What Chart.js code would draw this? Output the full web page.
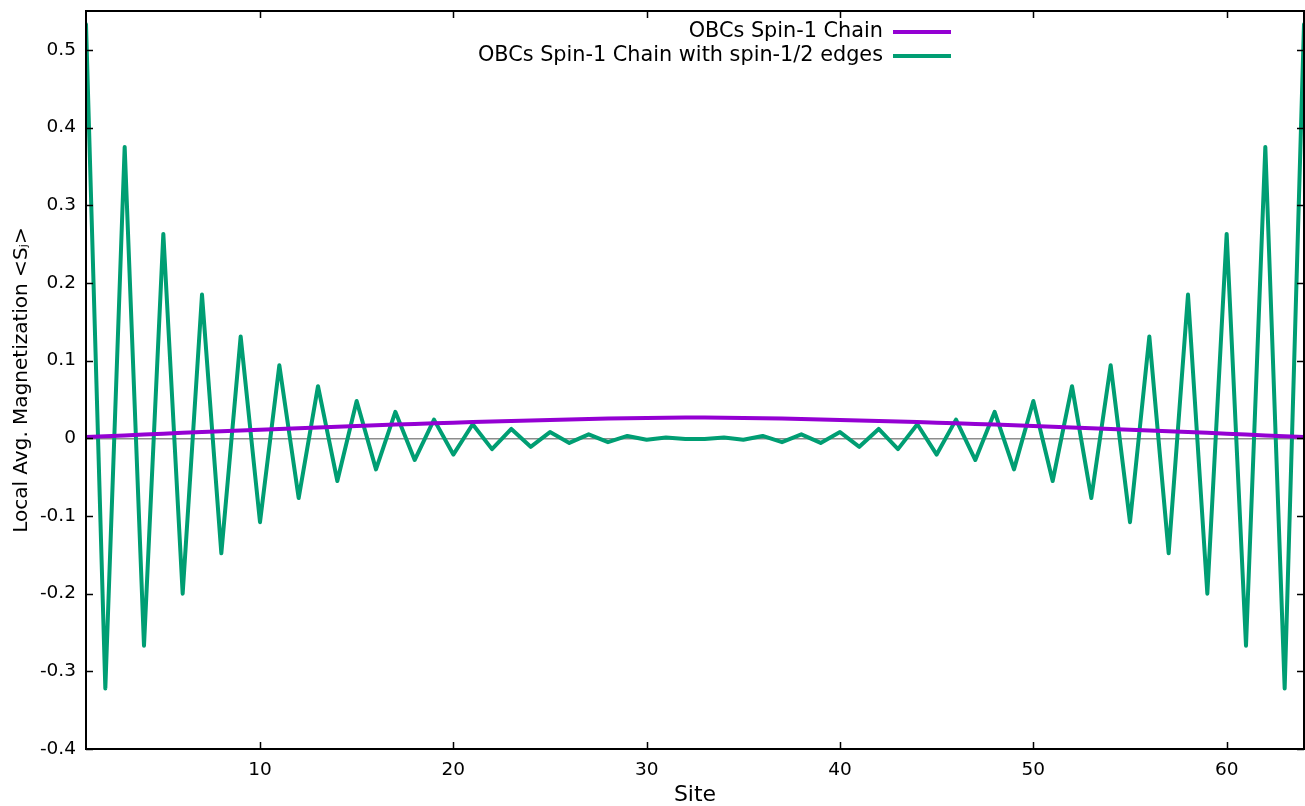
<!DOCTYPE html>
<html>
<head>
<meta charset="utf-8">
<script src="https://cdn.jsdelivr.net/npm/chart.js@4"></script>
<style>
    html, body { margin: 0; padding: 0; background: #fff; }
    #wrap { width: 1305px; height: 806px; }
</style>
</head>
<body>
<div id="wrap"><canvas id="grafico"></canvas></div>
<script>
// sitios de la cadena
const sitios = [1, 2, 3, 4, 5, 6, 7, 8, 9, 10, 11, 12, 13, 14, 15, 16,
    17, 18, 19, 20, 21, 22, 23, 24, 25, 26, 27, 28, 29, 30, 31, 32,
    33, 34, 35, 36, 37, 38, 39, 40, 41, 42, 43, 44, 45, 46, 47, 48,
    49, 50, 51, 52, 53, 54, 55, 56, 57, 58, 59, 60, 61, 62, 63, 64];

// cadena spin-1 con OBC
const magSpin1 = [0.0015, 0.0026, 0.0037, 0.0048, 0.0059, 0.0070, 0.0080, 0.0090,
    0.0100, 0.0110, 0.0120, 0.0130, 0.0140, 0.0149, 0.0158, 0.0167,
    0.0176, 0.0185, 0.0193, 0.0201, 0.0209, 0.0216, 0.0223, 0.0230,
    0.0236, 0.0242, 0.0248, 0.0253, 0.0258, 0.0262, 0.0265, 0.0267,
    0.0267, 0.0265, 0.0262, 0.0258, 0.0253, 0.0248, 0.0242, 0.0236,
    0.0230, 0.0223, 0.0216, 0.0209, 0.0201, 0.0193, 0.0185, 0.0176,
    0.0167, 0.0158, 0.0149, 0.0140, 0.0130, 0.0120, 0.0110, 0.0100,
    0.0090, 0.0080, 0.0070, 0.0059, 0.0048, 0.0037, 0.0026, 0.0015];

// cadena spin-1 con bordes spin-1/2
const magBordes = [0.533, -0.322, 0.375, -0.267, 0.263, -0.200, 0.185, -0.148,
    0.131, -0.108, 0.094, -0.077, 0.067, -0.055, 0.048, -0.040,
    0.034, -0.028, 0.024, -0.021, 0.018, -0.014, 0.012, -0.011,
    0.008, -0.006, 0.005, -0.005, 0.003, -0.002, 0.001, -0.001,
    -0.001, 0.001, -0.002, 0.003, -0.005, 0.005, -0.006, 0.008,
    -0.011, 0.012, -0.014, 0.018, -0.021, 0.024, -0.028, 0.034,
    -0.040, 0.048, -0.055, 0.067, -0.077, 0.094, -0.108, 0.131,
    -0.148, 0.185, -0.200, 0.263, -0.267, 0.375, -0.322, 0.533];

const ticksX = [10, 20, 30, 40, 50, 60];
const ticksY = [-0.4, -0.3, -0.2, -0.1, 0, 0.1, 0.2, 0.3, 0.4, 0.5];

const etiquetas = ['OBCs Spin-1 Chain', 'OBCs Spin-1 Chain with spin-1/2 edges'];

const FUENTE = 'DejaVu Sans, Verdana, sans-serif';

// marco y marcas hacia adentro (estilo gnuplot)
const marcoPlugin = {
    id: 'marco',
    afterDatasetsDraw(chart) {
        const { ctx, chartArea: a, scales } = chart;
        ctx.save();
        ctx.strokeStyle = '#000';
        ctx.lineWidth = 1.5;
        ctx.beginPath();
        ticksX.forEach(v => {
            const x = Math.round(scales.x.getPixelForValue(v)) + 0.5;
            ctx.moveTo(x, a.bottom); ctx.lineTo(x, a.bottom - 7);
            ctx.moveTo(x, a.top); ctx.lineTo(x, a.top + 7);
        });
        ticksY.forEach(v => {
            const y = Math.round(scales.y.getPixelForValue(v)) + 0.5;
            ctx.moveTo(a.left, y); ctx.lineTo(a.left + 7, y);
            ctx.moveTo(a.right, y); ctx.lineTo(a.right - 7, y);
        });
        ctx.stroke();
        ctx.lineWidth = 2;
        ctx.strokeRect(a.left, a.top, a.right - a.left, a.bottom - a.top);
        ctx.restore();
    }
};

// leyenda estilo gnuplot: texto a la derecha, muestra de linea despues
const leyendaPlugin = {
    id: 'leyenda',
    afterDraw(chart) {
        const ctx = chart.ctx;
        ctx.save();
        ctx.font = '20.8px ' + FUENTE;
        ctx.textAlign = 'right';
        ctx.textBaseline = 'middle';
        chart.data.datasets.forEach((ds, i) => {
            const y = 32 + i * 24;
            ctx.fillStyle = '#000';
            ctx.fillText(ds.label, 883, y);
            ctx.strokeStyle = ds.borderColor;
            ctx.lineWidth = 4;
            ctx.beginPath();
            ctx.moveTo(893, y);
            ctx.lineTo(951, y);
            ctx.stroke();
        });
        ctx.restore();
    }
};

document.addEventListener("DOMContentLoaded", function () {
    const ctx = document.getElementById('grafico').getContext('2d');
    new Chart(ctx, {
        type: 'line',
        data: {
            datasets: [
                {
                    label: etiquetas[0],
                    data: sitios.map((s, i) => ({ x: s, y: magSpin1[i] })),
                    borderColor: '#9400d3',
                    borderWidth: 4,
                    borderJoinStyle: 'round',
                    borderCapStyle: 'round',
                    pointRadius: 0,
                    tension: 0
                },
                {
                    label: etiquetas[1],
                    data: sitios.map((s, i) => ({ x: s, y: magBordes[i] })),
                    borderColor: '#009e73',
                    borderWidth: 4,
                    borderJoinStyle: 'round',
                    borderCapStyle: 'round',
                    pointRadius: 0,
                    tension: 0
                }
            ]
        },
        options: {
            responsive: true,
            maintainAspectRatio: false,
            animation: false,
            layout: { padding: { top: 11, right: 1, left: 0, bottom: 0 } },
            plugins: {
                legend: { display: false },
                tooltip: { enabled: false }
            },
            scales: {
                x: {
                    type: 'linear',
                    min: 1,
                    max: 64,
                    afterBuildTicks: s => { s.ticks = ticksX.map(v => ({ value: v })); },
                    afterFit: s => { s.height = 57; s.paddingLeft = 0; s.paddingRight = 0; },
                    grid: { display: false, drawTicks: false },
                    border: { display: false },
                    ticks: {
                        color: '#000',
                        padding: 10,
                        maxRotation: 0,
                        font: { family: FUENTE, size: 18.5 }
                    },
                    title: {
                        display: true,
                        text: 'Site',
                        color: '#000',
                        padding: { top: 0, bottom: 0 },
                        font: { family: FUENTE, size: 22, lineHeight: 1 }
                    }
                },
                y: {
                    type: 'linear',
                    min: -0.4,
                    max: 0.55,
                    afterBuildTicks: s => { s.ticks = ticksY.map(v => ({ value: v })); },
                    afterFit: s => { s.width = 86; s.paddingTop = 0; s.paddingBottom = 0; },
                    grid: {
                        drawTicks: false,
                        lineWidth: 1.5,
                        color: c => (c.tick && c.tick.value === 0) ? '#8c8c8c' : 'rgba(0,0,0,0)'
                    },
                    border: { display: false },
                    ticks: {
                        color: '#000',
                        padding: 10,
                        font: { family: FUENTE, size: 18.5 },
                        callback: v => String(v)
                    },
                    title: {
                        display: true,
                        text: 'Local Avg. Magnetization <Sⱼ>',
                        color: '#000',
                        padding: { top: 10, bottom: 0 },
                        font: { family: FUENTE, size: 20 }
                    }
                }
            }
        },
        plugins: [marcoPlugin, leyendaPlugin]
    });
});
</script>
</body>
</html>
